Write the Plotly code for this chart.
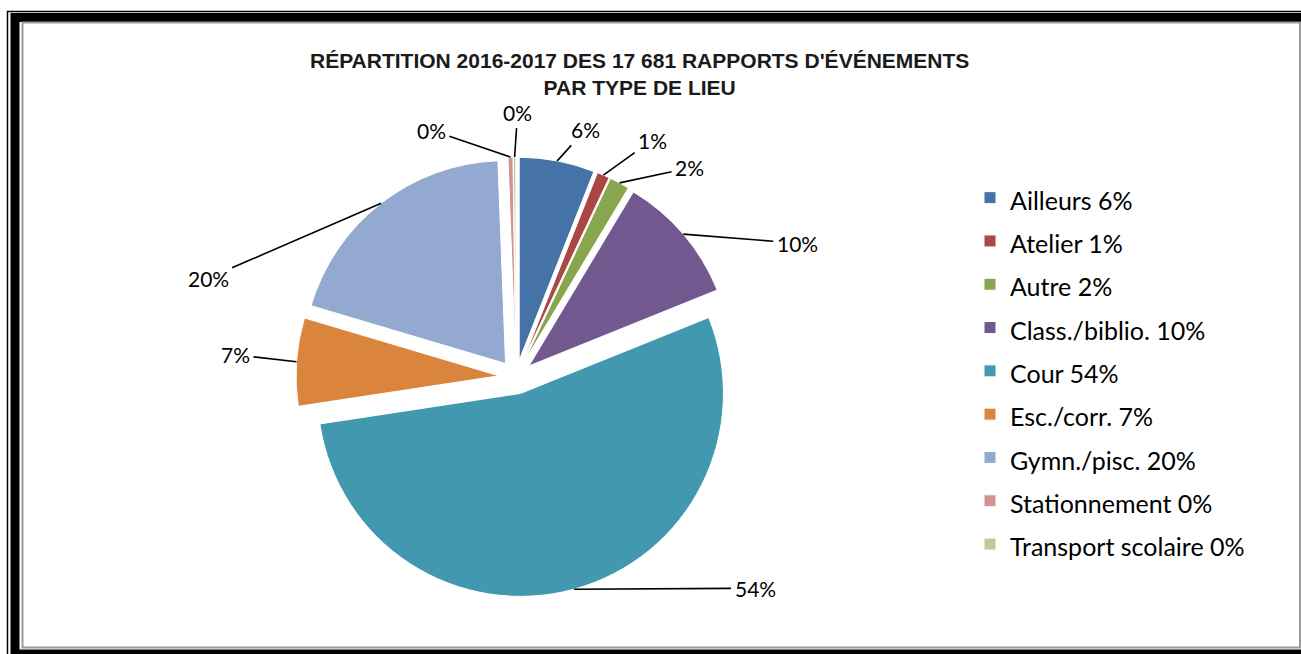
import math
import plotly.graph_objects as go

W, H = 1301, 654

categories = ["Ailleurs", "Atelier", "Autre", "Class./biblio.", "Cour",
              "Esc./corr.", "Gymn./pisc.", "Stationnement", "Transport scolaire"]
percent_values = [6.0, 1.0, 1.6, 10.3, 53.7, 7.0, 19.8, 0.4, 0.2]
colors = ["#4572A7", "#AA4643", "#89A54E", "#71588F", "#4198AF",
          "#DB843D", "#93A9CF", "#D19392", "#B9CD96"]
# label offsets (px) from each slice's outer mid-arc point (style only)
label_offsets = [(28, -31), (49, -35), (70, -15), (114, 9), (181, -1),
                 (-61, -7), (-173, 75), (-79, -27), (3, -45)]

PULL = 0.084
dom_x = [296 / W, 736 / W]
dom_y = [1 - 597 / H, 1 - 157 / H]

legend_labels = [
    f"<span style='font-size:25px'>{c} {int(v + 0.5)}%</span>"
    for c, v in zip(categories, percent_values)
]

fig = go.Figure()
fig.add_trace(go.Pie(
    labels=legend_labels,
    values=percent_values,
    sort=False,
    direction="clockwise",
    rotation=0,
    pull=[PULL] * len(percent_values),
    marker=dict(colors=colors, line=dict(color="white", width=1)),
    textinfo="none",
    hoverinfo="label+percent",
    domain=dict(x=dom_x, y=dom_y),
))

# geometry of the pie (same rule as plotly: r = min(w,h)/2/(1+maxPull))
wpx = (dom_x[1] - dom_x[0]) * W
hpx = (dom_y[1] - dom_y[0]) * H
r = min(wpx, hpx) / 2 / (1 + PULL)
cx = (dom_x[0] + dom_x[1]) / 2 * W
cy = (1 - (dom_y[0] + dom_y[1]) / 2) * H
total = sum(percent_values)
cum = 0.0
annotations = []
for v, (ox, oy) in zip(percent_values, label_offsets):
    mid = (cum + v / 2) / total * 2 * math.pi
    cum += v
    px = cx + r * (1 + PULL) * math.sin(mid)
    py = cy - r * (1 + PULL) * math.cos(mid)
    annotations.append(dict(
        x=px / W, y=1 - py / H, xref="paper", yref="paper",
        text=f"{int(v / total * 100 + 0.5)}%",
        showarrow=True, arrowhead=0, arrowwidth=1.6, arrowcolor="black",
        ax=ox, ay=oy, standoff=0, startstandoff=2,
        font=dict(family="Lato", size=21, color="#000000"),
    ))

annotations.append(dict(
    x=639 / W, y=1 - 47 / H, xref="paper", yref="paper",
    xanchor="center", yanchor="top", showarrow=False,
    text="<b>RÉPARTITION 2016-2017 DES 17 681 RAPPORTS D'ÉVÉNEMENTS<br>PAR TYPE DE LIEU</b>",
    font=dict(family="Liberation Sans", size=21, color="#1a1a1a"),
))

def px_rect(x0, y0, x1, y1, color, width):
    return dict(type="rect", xref="paper", yref="paper",
                x0=x0 / W, x1=x1 / W, y0=1 - y0 / H, y1=1 - y1 / H,
                line=dict(color=color, width=width), fillcolor="rgba(0,0,0,0)",
                layer="above")

shapes = [
    px_rect(7.5, 11.5, 1320, 670, "black", 1.5),
    px_rect(15, 17.5, 1312, 654, "black", 9),
    px_rect(22.5, 22.5, 1300, 647.5, "#9a9a9a", 2),
]

fig.update_layout(
    width=W, height=H,
    margin=dict(l=0, r=0, t=0, b=0),
    paper_bgcolor="white", plot_bgcolor="white",
    showlegend=True,
    legend=dict(
        x=970 / W, y=1 - 171 / H, xanchor="left", yanchor="top",
        font=dict(family="Lato", size=31, color="#000000"),
        itemwidth=30, bgcolor="rgba(0,0,0,0)",
    ),
    annotations=annotations,
    shapes=shapes,
)

fig.write_html("out.html")
